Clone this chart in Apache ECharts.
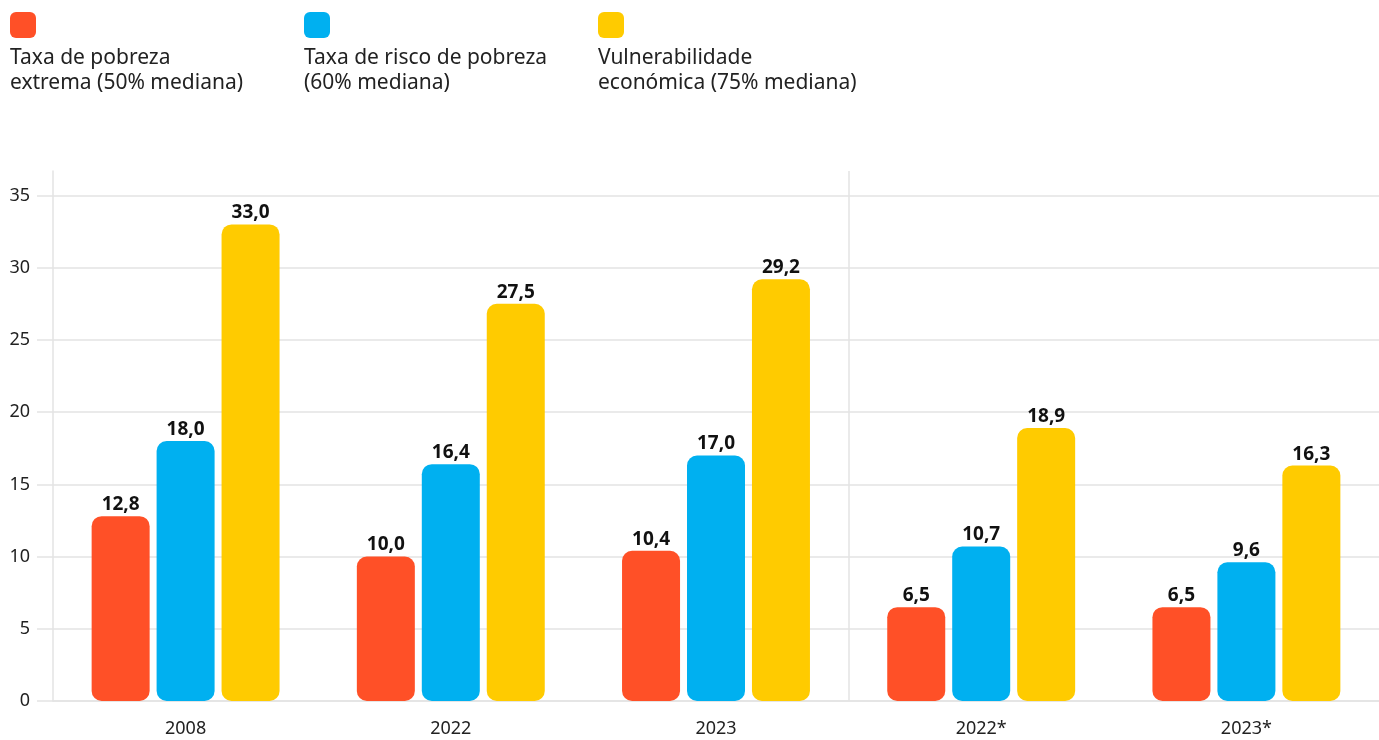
<!DOCTYPE html>
<html>
<head>
<meta charset="utf-8">
<script src="https://cdn.jsdelivr.net/npm/echarts@6/dist/echarts.min.js"></script>
<style>
  html, body { margin: 0; padding: 0; background: #fff; }
  #chart { width: 1379px; height: 740px; }
</style>
</head>
<body>
<div id="chart"></div>
<script>
// data
const categories = ['2008', '2022', '2023', '2022*', '2023*']
const seriesNames = [
  'Taxa de pobreza\nextrema (50% mediana)',
  'Taxa de risco de pobreza\n(60% mediana)',
  'Vulnerabilidade\neconómica (75% mediana)'
]
const extremePoverty = [12.8, 10.0, 10.4, 6.5, 6.5]
const povertyRisk = [18.0, 16.4, 17.0, 10.7, 9.6]
const vulnerability = [33.0, 27.5, 29.2, 18.9, 16.3]
const yTicks = [0, 5, 10, 15, 20, 25, 30, 35]
// separator after the third year group (2023 | 2022*)
const separatorAt = 3

const colors = ['#FF5027', '#00B0F0', '#FFCB00']
const font = 'Noto Sans'
const gridColor = '#e3e3e3'

const chart = echarts.init(document.getElementById('chart'))

// legend: swatch above a two-line caption
const legendX = [10, 304, 598]
const legendGraphics = seriesNames.map((name, i) => ({
  type: 'group',
  left: legendX[i],
  top: 12,
  children: [
    { type: 'rect', shape: { x: 0, y: 0, width: 26, height: 26, r: 6 }, style: { fill: colors[i] } },
    { type: 'text', x: 0, y: 34, style: { text: name, font: '21px "Noto Sans"', fill: '#222', lineHeight: 25 } }
  ]
}))

function makeSeries(name, data, color) {
  return {
    name: name,
    type: 'bar',
    data: data,
    barWidth: 58,
    barGap: '12%',
    z: 3,
    itemStyle: { color: color, borderRadius: 10 },
    label: {
      show: true,
      position: 'top',
      distance: 2,
      fontFamily: font,
      fontSize: 19,
      fontWeight: 'bold',
      color: '#111',
      formatter: p => p.value.toFixed(1).replace('.', ',')
    }
  }
}

const series = [
  makeSeries(seriesNames[0], extremePoverty, colors[0]),
  makeSeries(seriesNames[1], povertyRisk, colors[1]),
  makeSeries(seriesNames[2], vulnerability, colors[2]),
  {
    // empty helper series on a band-index axis, only carries the separator
    type: 'line',
    xAxisIndex: 1,
    data: [],
    z: 1,
    markLine: {
      silent: true,
      symbol: 'none',
      label: { show: false },
      lineStyle: { color: gridColor, width: 1.5, type: 'solid' },
      data: [{ xAxis: separatorAt }]
    }
  }
]

chart.setOption({
  animation: false,
  textStyle: { fontFamily: font },
  graphic: legendGraphics,
  grid: { left: 53, right: 0, top: 171, bottom: 39 },
  xAxis: [{
    type: 'category',
    data: categories,
    axisLine: { lineStyle: { color: gridColor, width: 1.5 } },
    axisTick: { show: false },
    axisLabel: { fontFamily: font, fontSize: 18, color: '#222', margin: 19 },
    splitLine: { show: false }
  }, {
    type: 'value',
    min: 0,
    max: categories.length,
    show: false
  }],
  yAxis: {
    type: 'value',
    min: 0,
    max: 36.7,
    interval: 5,
    axisLine: { show: true, lineStyle: { color: gridColor, width: 1.5 } },
    axisTick: { show: true, length: 16, customValues: yTicks, lineStyle: { color: gridColor, width: 1.5 } },
    axisLabel: { customValues: yTicks, fontFamily: font, fontSize: 18, color: '#222', margin: 23 },
    splitLine: { show: true, lineStyle: { color: gridColor, width: 1.5 } }
  },
  series: series
})
</script>
</body>
</html>
